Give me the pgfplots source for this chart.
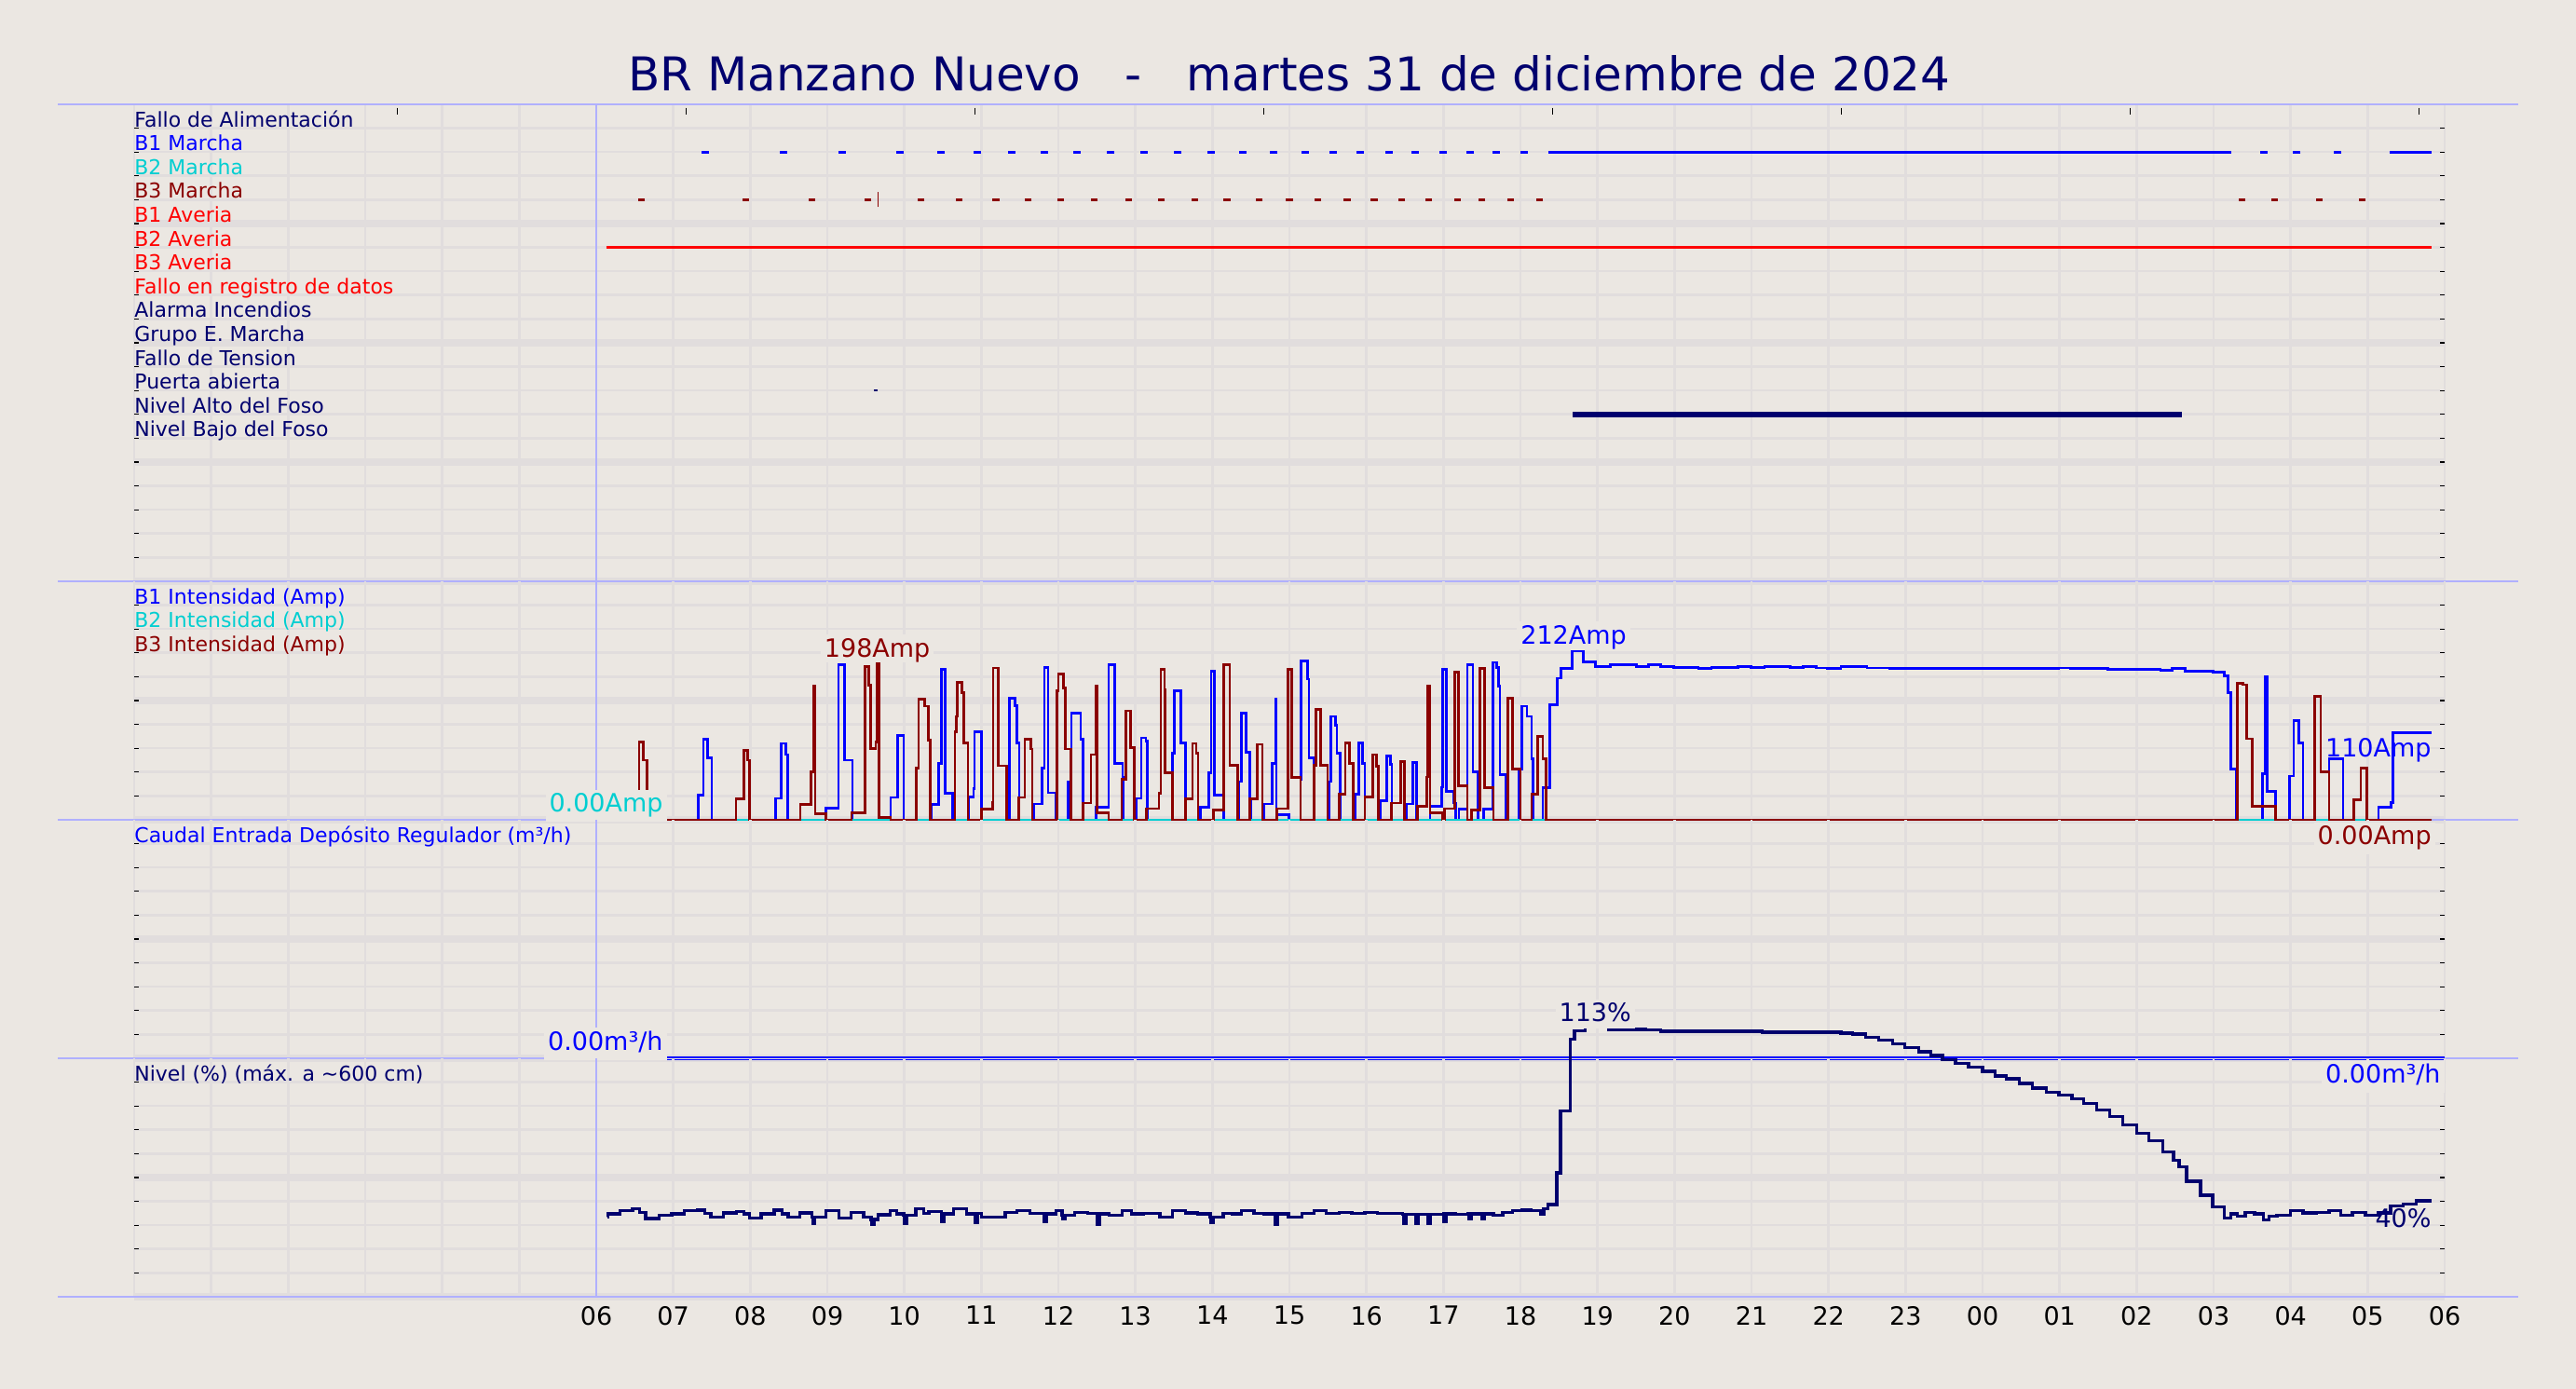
\documentclass[border=0pt]{standalone}
\usepackage{pgfplots}
\pgfplotsset{compat=1.18}
\usepackage{fontspec}
\setmainfont{DejaVu Sans}
\definecolor{bgc}{RGB}{235,231,226}
\definecolor{gridc}{RGB}{225,221,221}
\definecolor{sepc}{RGB}{176,176,255}
\definecolor{navyc}{RGB}{0,0,110}
\definecolor{b1c}{RGB}{0,0,255}
\definecolor{b2c}{RGB}{0,206,209}
\definecolor{b3c}{RGB}{139,0,0}
\definecolor{redc}{RGB}{255,0,0}
\newcommand{\lblfont}{\fontsize{11}{13}\selectfont}
\newcommand{\valfont}{\fontsize{13.5}{16}\selectfont}
\pgfplotsset{
  panel/.style={
    scale only axis, width=1240pt, xmin=0, xmax=30, clip=false,
    anchor=south west,
    axis line style={draw=none},
    xtick={0,...,30}, xticklabels={}, xmajorgrids,
    xtick style={draw=none},
    tick align=inside, major tick length=2.5pt,
    ytick style={black, line width=0.6pt},
    yticklabels={}, ymajorgrids,
    major grid style={gridc, line width=1.3pt},
    extra y tick labels={},
    extra y tick style={grid=major, major grid style={gridc, line width=3.75pt}},
    unbounded coords=jump,
  },
}
\tikzset{
  sep/.style={sepc, line width=0.7pt},
  rowlbl/.style={anchor=base west, inner sep=0pt, font=\lblfont, yshift=0.75pt},
  vallbl/.style={fill=bgc, inner sep=2pt, font=\valfont, text depth=3.2pt},
}
\begin{document}
\begin{tikzpicture}
\useasboundingbox (0,0) rectangle (1382.5pt,745.5pt);
\fill[bgc] (0,0) rectangle (1382.5pt,745.5pt);
\node[anchor=base, font=\fontsize{25}{29}\selectfont, text=navyc, inner sep=0pt] at (692pt,696.5pt) {BR Manzano Nuevo\ \ \ -\ \ \ martes 31 de diciembre de 2024};

% ---------------- Panel 1: digital signals ----------------
\begin{axis}[panel, at={(72pt,433.5pt)}, height=256pt, ymin=0, ymax=20,
  ytick={0,...,19}, extra y ticks={0,5,10,15}]
\draw[sep] (rel axis cs:0,1) ++(-41pt,0) -- ++(1320.5pt,0);
\draw[sep] (rel axis cs:0,0) ++(-41pt,0) -- ++(1320.5pt,0);
\draw[sepc, line width=0.8pt] (axis cs:6,0) -- (axis cs:6,20);
\pgfplotsinvokeforeach{3.42,7.17,10.92,14.67,18.42,22.17,25.92,29.67}{\draw[black, line width=0.6pt] (axis cs:#1,20) ++(0,-1.8pt) -- ++(0,-3.8pt);}
% B1 Marcha
\addplot[b1c, only marks, mark=-, mark size=2pt, mark options={line width=1.6pt}] coordinates {
(7.42,18) (8.43,18) (9.19,18) (9.94,18) (10.48,18) (10.95,18) (11.39,18) (11.82,18) (12.24,18) (12.68,18)
(13.11,18) (13.55,18) (13.98,18) (14.39,18) (14.80,18) (15.2,18) (15.57,18) (15.92,18) (16.29,18) (16.63,18)
(17.0,18) (17.35,18) (17.68,18) (18.05,18) (27.65,18) (28.08,18) (28.61,18)};
\addplot[b1c, line width=1.6pt] coordinates {(18.36,18) (27.23,18) (27.5,nan) (29.29,18) (29.83,18)};
% B3 Marcha
\addplot[b3c, only marks, mark=-, mark size=1.8pt, mark options={line width=1.6pt}] coordinates {
(6.59,16) (7.94,16) (8.80,16) (9.53,16) (10.22,16) (10.71,16) (11.19,16) (11.61,16) (12.03,16) (12.47,16)
(12.91,16) (13.34,16) (13.77,16) (14.19,16) (14.61,16) (15.0,16) (15.37,16) (15.75,16) (16.1,16) (16.46,16)
(16.81,16) (17.18,16) (17.5,16) (17.87,16) (18.25,16) (27.37,16) (27.79,16) (28.37,16) (28.93,16)};
\addplot[b3c, line width=0.6pt] coordinates {(9.66,15.69) (9.66,16.31)};
% B2 Averia
\addplot[redc, line width=1.6pt] coordinates {(6.13,14) (29.83,14)};
% Puerta abierta
\addplot[navyc, only marks, mark=-, mark size=1pt, mark options={line width=1.2pt}] coordinates {(9.63,8)};
% Nivel Alto del Foso
\addplot[navyc, line width=3pt] coordinates {(18.68,7) (26.59,7)};
\node[rowlbl, text=navyc] at (axis cs:0,19) {Fallo de Alimentación};
\node[rowlbl, text=b1c] at (axis cs:0,18) {B1 Marcha};
\node[rowlbl, text=b2c] at (axis cs:0,17) {B2 Marcha};
\node[rowlbl, text=b3c] at (axis cs:0,16) {B3 Marcha};
\node[rowlbl, text=redc] at (axis cs:0,15) {B1 Averia};
\node[rowlbl, text=redc] at (axis cs:0,14) {B2 Averia};
\node[rowlbl, text=redc] at (axis cs:0,13) {B3 Averia};
\node[rowlbl, text=redc] at (axis cs:0,12) {Fallo en registro de datos};
\node[rowlbl, text=navyc] at (axis cs:0,11) {Alarma Incendios};
\node[rowlbl, text=navyc] at (axis cs:0,10) {Grupo E. Marcha};
\node[rowlbl, text=navyc] at (axis cs:0,9) {Fallo de Tension};
\node[rowlbl, text=navyc] at (axis cs:0,8) {Puerta abierta};
\node[rowlbl, text=navyc] at (axis cs:0,7) {Nivel Alto del Foso};
\node[rowlbl, text=navyc] at (axis cs:0,6) {Nivel Bajo del Foso};
\end{axis}

% ---------------- Panel 2: currents ----------------
\begin{axis}[panel, at={(72pt,305.5pt)}, height=128pt, ymin=0, ymax=300,
  ytick={0,30,...,270}, extra y ticks={0,150}]
\draw[sep] (rel axis cs:0,0) ++(-41pt,0) -- ++(1320.5pt,0);
\draw[sepc, line width=0.8pt] (axis cs:6,0) -- (axis cs:6,300);
% B1
\addplot[b1c, line width=1.4pt, const plot] coordinates {
(6.0,0)
(7.323,31) (7.391,101) (7.444,78) (7.5,0)
(8.327,27) (8.403,96) (8.46,82) (8.488,0)
(8.984,15) (9.145,195) (9.226,75) (9.327,0)
(9.823,28) (9.911,106) (9.992,0)
(10.347,19) (10.448,71) (10.484,189) (10.532,33) (10.629,0)
(10.839,29) (10.9,39) (10.911,111) (11.0,0)
(11.363,153) (11.435,144) (11.464,97) (11.492,0)
(11.677,20) (11.786,65) (11.819,192) (11.867,34) (11.968,0)
(12.13,47) (12.17,134) (12.29,101) (12.32,0)
(12.49,16) (12.653,195) (12.733,71) (12.834,53) (12.842,0)
(13.008,27) (13.076,103) (13.137,99) (13.157,0)
(13.48,84) (13.508,162) (13.593,97) (13.653,0)
(13.843,16) (13.951,59) (13.984,187) (14.024,31) (14.145,0)
(14.346,48) (14.375,134) (14.435,85) (14.488,27) (14.5,0)
(14.669,20) (14.778,71) (14.822,152) (14.83,6) (14.99,0)
(15.145,51) (15.153,200) (15.234,177) (15.254,78) (15.322,0)
(15.516,48) (15.536,130) (15.597,119) (15.617,84) (15.657,0)
(15.85,32) (15.9,97) (15.95,71) (15.98,0)
(16.18,24) (16.26,80) (16.31,70) (16.33,0)
(16.52,20) (16.6,72) (16.65,0)
(16.826,17) (16.975,41) (16.987,189) (17.036,36) (17.137,21) (17.161,0)
(17.201,13) (17.31,195) (17.383,60) (17.451,0)
(17.524,13) (17.645,198) (17.693,192) (17.713,168) (17.734,57) (17.814,0)
(17.983,64) (18.016,143) (18.084,130) (18.145,77) (18.16,0)
(18.29,40) (18.384,145) (18.48,178) (18.53,190) (18.67,212) (18.82,199) (18.97,193)
(19.165,195) (19.51,193) (19.66,195) (19.82,193) (19.99,192) (20.31,190) (20.48,192) (20.82,193)
(20.99,192) (21.17,193) (21.5,192) (21.67,193) (21.84,191) (21.99,190) (22.16,193) (22.5,191)
(22.8,190) (23.5,190) (24.3,190) (24.99,191) (25.14,190) (25.63,189) (26.31,188) (26.46,190)
(26.63,187) (26.99,186) (27.14,181) (27.19,160) (27.22,64) (27.29,0)
(27.63,58) (27.67,180) (27.7,36) (27.8,0)
(27.99,55) (28.04,125) (28.11,97) (28.16,0)
(28.5,77) (28.68,0)
(29.14,16) (29.3,22) (29.33,110) (29.83,110)};
% B2
\addplot[b2c, line width=1.4pt, const plot] coordinates {(6.0,0) (29.83,0)};
% B3
\addplot[b3c, line width=1.4pt, const plot] coordinates {
(6.0,0)
(6.556,98) (6.613,75) (6.657,0)
(7.815,26) (7.915,87) (7.968,75) (7.988,0)
(8.649,19) (8.79,60) (8.823,168) (8.843,8) (8.984,0)
(9.315,9) (9.488,193) (9.540,169) (9.565,90) (9.629,98) (9.649,198) (9.669,3) (9.823,0)
(10.153,65) (10.185,152) (10.266,143) (10.315,100) (10.335,0)
(10.657,111) (10.677,130) (10.685,173) (10.75,160) (10.77,97) (10.827,0)
(11.0,13) (11.147,22) (11.153,191) (11.222,68) (11.33,0)
(11.484,28) (11.565,101) (11.645,89) (11.66,0)
(11.984,162) (12.0,183) (12.07,166) (12.09,89) (12.16,0)
(12.322,21) (12.423,82) (12.483,168) (12.5,9) (12.653,0)
(12.822,51) (12.875,137) (12.935,91) (12.983,0)
(13.145,14) (13.306,33) (13.33,189) (13.379,164) (13.387,59) (13.479,0)
(13.653,26) (13.742,96) (13.79,84) (13.814,0)
(14.016,12) (14.145,195) (14.225,69) (14.326,0)
(14.488,26) (14.58,95) (14.649,0)
(14.838,14) (14.984,189) (15.032,53) (15.145,0)
(15.322,69) (15.346,139) (15.403,69) (15.496,0)
(15.649,32) (15.726,97) (15.778,71) (15.83,0)
(15.979,29) (16.08,82) (16.133,67) (16.153,0)
(16.322,21) (16.443,73) (16.492,0)
(16.665,17) (16.786,54) (16.8,168) (16.826,9) (16.99,0)
(17.015,14) (17.15,186) (17.2,43) (17.31,0)
(17.36,12) (17.47,190) (17.53,40) (17.65,0)
(17.84,153) (17.9,64) (18.0,0)
(18.145,32) (18.22,105) (18.29,77) (18.33,0)
(27.31,172) (27.38,170) (27.43,102) (27.5,17) (27.8,0)
(28.31,155) (28.39,60) (28.5,0)
(28.82,25) (28.91,65) (28.99,0) (29.83,0)};
\node[rowlbl, text=b1c] at (axis cs:0,270) {B1 Intensidad (Amp)};
\node[rowlbl, text=b2c] at (axis cs:0,240) {B2 Intensidad (Amp)};
\node[rowlbl, text=b3c] at (axis cs:0,210) {B3 Intensidad (Amp)};
\node[vallbl, anchor=base east, text=b2c, yshift=4pt] at (axis cs:6.919,0) {0.00Amp};
\node[vallbl, anchor=base, text=b3c, yshift=3pt, text depth=1pt] at (axis cs:9.649,198) {198Amp};
\node[vallbl, anchor=base, text=b1c, yshift=3.8pt, text depth=1pt] at (axis cs:18.69,212) {212Amp};
\node[anchor=base east, inner sep=0pt, font=\valfont, text=b1c, yshift=-13.3pt] at (axis cs:29.83,110) {110Amp};
\end{axis}

% ---------------- Panel 3: caudal ----------------
\begin{axis}[panel, at={(72pt,177.5pt)}, height=128pt, ymin=0, ymax=10,
  ytick={0,...,9}, extra y ticks={0,5}]
\draw[sep] (rel axis cs:0,0) ++(-41pt,0) -- ++(1320.5pt,0);
\draw[sepc, line width=0.8pt] (axis cs:6,0) -- (axis cs:6,10);
\addplot[b1c, line width=0.8pt, double=bgc, double distance=0.4pt] coordinates {(6,0) (30,0)};
\node[rowlbl, text=b1c] at (axis cs:0,9) {Caudal Entrada Depósito Regulador (m³/h)};
\node[vallbl, anchor=base east, text=b1c, yshift=4pt] at (axis cs:6.919,0) {0.00m³/h};
\node[vallbl, anchor=base east, text=b3c] at (axis cs:29.88,8.96) {0.00Amp};
\end{axis}

% ---------------- Panel 4: nivel ----------------
\begin{axis}[panel, at={(72pt,49.5pt)}, height=128pt, ymin=0, ymax=100,
  ytick={0,10,...,90}, extra y ticks={0,50},
  xticklabels={{},{},{},{},{},{},06,07,08,09,10,11,12,13,14,15,16,17,18,19,20,21,22,23,00,01,02,03,04,05,06},
  xticklabel style={font=\valfont, text=black, yshift=-1.5pt}]
\draw[sep] (rel axis cs:0,0) ++(-41pt,0) -- ++(1320.5pt,0);
\draw[sepc, line width=0.8pt] (axis cs:6,0) -- (axis cs:6,100);
\addplot[navyc, line width=1.7pt, const plot] coordinates {
(6.14,33.5) (6.15,34.8) (6.31,36.1) (6.47,36.8) (6.56,35.4) (6.64,32.8) (6.82,34.1) (6.98,34.8)
(7.14,36.1) (7.31,36.4) (7.41,35.0) (7.49,33.3) (7.65,35.2) (7.82,35.8) (7.92,34.8) (7.99,33.1)
(8.14,34.8) (8.31,36.3) (8.41,34.8) (8.49,33.5) (8.64,35.2) (8.8,33.5) (8.81,30.8) (8.84,33.5)
(8.98,36.1) (9.15,33.1) (9.31,35.4) (9.47,33.5) (9.57,32.4) (9.58,30.2) (9.61,32.4) (9.66,34.4)
(9.82,36.1) (9.9,34.8) (9.99,34.1) (10.0,30.8) (10.03,34.1) (10.15,36.8) (10.25,35.0) (10.32,35.8)
(10.48,34.8) (10.49,31.5) (10.52,34.8) (10.64,36.8) (10.81,34.8) (10.91,35.0) (10.92,31.0) (10.95,35.0)
(11.0,33.5) (11.31,35.4) (11.46,36.1) (11.63,35.0) (11.81,34.8) (11.82,31.5) (11.85,34.8)
(11.97,36.1) (12.05,34.1) (12.06,32.8) (12.09,34.1) (12.21,35.4) (12.38,35.0) (12.5,34.8) (12.51,30.5)
(12.54,34.8) (12.66,34.1) (12.83,36.1) (12.95,34.8) (13.11,35.0) (13.32,33.5) (13.48,36.1) (13.65,35.2)
(13.81,34.8) (13.97,33.5) (13.98,31.2) (14.01,33.5) (14.14,35.0) (14.26,34.8) (14.38,36.1) (14.54,35.0)
(14.67,34.8) (14.82,30.2) (14.85,34.8) (14.99,33.5) (15.16,35.0) (15.32,36.1) (15.48,35.0)
(15.65,35.4) (15.81,35.0) (15.98,35.4) (16.14,35.0) (16.47,34.5) (16.48,30.8) (16.51,34.5)
(16.64,30.8) (16.67,34.5) (16.8,30.8) (16.83,34.5) (17.0,34.8) (17.01,31.5) (17.04,34.8)
(17.16,34.5) (17.32,34.8) (17.33,32.8) (17.36,34.8) (17.5,32.5) (17.53,34.8) (17.65,34.1)
(17.77,35.4) (17.9,36.1) (18.02,36.3) (18.14,36.1) (18.26,34.8) (18.3,36.8) (18.36,38.7) (18.47,51.9)
(18.52,77.9) (18.65,107.9) (18.7,111.6) (18.84,113) (19.14,112) (19.48,112.1) (19.62,111.8) (19.82,111.3)
(21.14,110.9) (22.16,110.6) (22.31,110.2) (22.48,108.9) (22.65,107.6) (22.83,106) (22.99,104.4) (23.17,102.8)
(23.33,101.1) (23.48,99.4) (23.65,97.8) (23.82,96.3) (24.0,94.6) (24.16,92.6) (24.31,91.4) (24.48,89.4)
(24.65,87.5) (24.83,85.8) (24.99,84.5) (25.16,82.9) (25.31,81) (25.48,78.4) (25.65,75.5) (25.82,72.1)
(26.0,68.6) (26.16,65.4) (26.34,60.8) (26.48,57.2) (26.55,54.6) (26.65,48.5) (26.83,42.6) (26.99,37.7)
(27.14,32.9) (27.22,34.8) (27.31,33.8) (27.41,35.4) (27.53,34.8) (27.65,32.3) (27.72,33.8) (27.82,34.2)
(28.0,36.2) (28.16,35.2) (28.33,35.4) (28.5,36.2) (28.65,34.2) (28.8,35.4) (28.97,34.2) (29.14,35.2)
(29.3,38.0) (29.46,38.9) (29.63,40.2) (29.83,40.2)};
\node[rowlbl, text=navyc] at (axis cs:0,90) {Nivel (\%) (máx. a \textasciitilde600 cm)};
\node[vallbl, anchor=base east, text=b1c] at (axis cs:30,89.6) {0.00m³/h};
\node[vallbl, anchor=base, text=navyc, yshift=3pt, text depth=1.6pt] at (axis cs:18.97,113) {113\%};
\node[anchor=base east, inner sep=0pt, font=\valfont, text=navyc, yshift=-14.3pt] at (axis cs:29.83,40.2) {40\%};
\end{axis}
\end{tikzpicture}
\end{document}
